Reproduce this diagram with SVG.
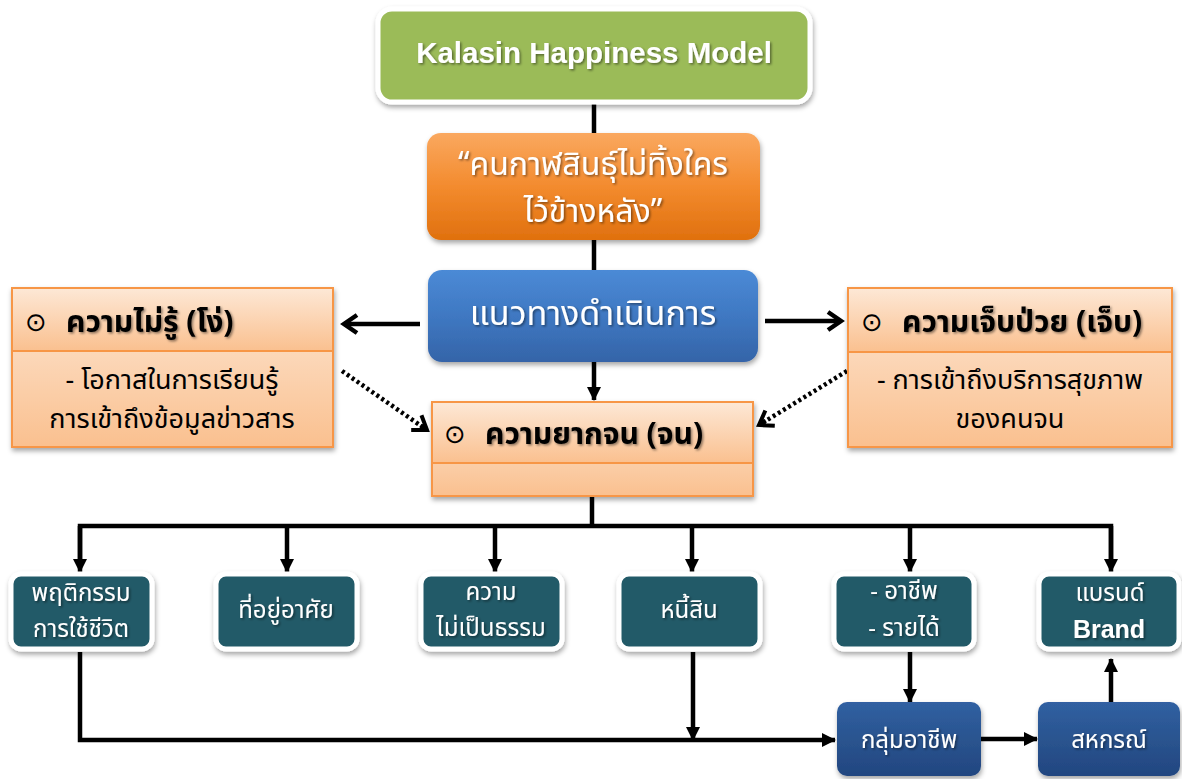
<svg xmlns="http://www.w3.org/2000/svg" width="1182" height="779" viewBox="0 0 1182 779">
<defs>
<style>
.th{font-family:'Noto Sans Thai','Noto Sans','DejaVu Sans',sans-serif;}
.en{font-family:'Liberation Sans',Arial,sans-serif;font-weight:bold;}
.w{fill:#ffffff;}
.k{fill:#000000;}
.mid{text-anchor:middle;}
.conn{fill:none;stroke:#000;stroke-width:4.5;}
.teal{fill:#235A68;stroke:#ffffff;stroke-width:5;}
.pe{stroke:#F79646;stroke-width:2;}
.hd{font-size:30px;font-weight:bold;}
.bd{font-size:27px;}
.tl{font-size:24px;}
.dot{font-size:26px;}
</style>
<linearGradient id="gOrange" x1="0" y1="0" x2="0" y2="1">
<stop offset="0" stop-color="#FAA85F"/><stop offset="0.5" stop-color="#F38B2E"/><stop offset="1" stop-color="#E0700E"/>
</linearGradient>
<linearGradient id="gBlue" x1="0" y1="0" x2="0" y2="1">
<stop offset="0" stop-color="#4B8AD6"/><stop offset="0.5" stop-color="#3F78C2"/><stop offset="1" stop-color="#3464A8"/>
</linearGradient>
<linearGradient id="gDark" x1="0" y1="0" x2="0" y2="1">
<stop offset="0" stop-color="#3060A2"/><stop offset="0.5" stop-color="#2A548F"/><stop offset="1" stop-color="#224680"/>
</linearGradient>
<linearGradient id="gPeach" x1="0" y1="0" x2="0" y2="1">
<stop offset="0" stop-color="#FDE8D6"/><stop offset="1" stop-color="#FAC08F"/>
</linearGradient>
<filter id="sh" x="-10%" y="-10%" width="120%" height="130%">
<feDropShadow dx="1" dy="3" stdDeviation="2.5" flood-color="#000" flood-opacity="0.35"/>
</filter>
<filter id="tsh" x="-5%" y="-20%" width="110%" height="140%">
<feDropShadow dx="1.5" dy="1.5" stdDeviation="1" flood-color="#000" flood-opacity="0.45"/>
</filter>
<marker id="tri" markerUnits="userSpaceOnUse" markerWidth="16" markerHeight="16" refX="13" refY="7" orient="auto">
<path d="M0,0 L14,7 L0,14 z" fill="#000"/>
</marker>
<marker id="chev" markerUnits="userSpaceOnUse" markerWidth="22" markerHeight="24" refX="16" refY="11" orient="auto">
<path d="M3,2 L16,11 L3,20" fill="none" stroke="#000" stroke-width="4.5" stroke-linejoin="miter"/>
</marker>
<marker id="dchev" markerUnits="userSpaceOnUse" markerWidth="22" markerHeight="24" refX="16" refY="11" orient="auto">
<path d="M3,2 L16,11 L3,20 M8,11 L16,11" fill="none" stroke="#000" stroke-width="4"/>
</marker>
</defs>
<rect width="1182" height="779" fill="#ffffff"/>

<g id="connectors">
<line class="conn" x1="594" y1="103" x2="594" y2="134"/>
<line class="conn" x1="594" y1="240" x2="594" y2="271"/>
<line class="conn" x1="594" y1="362" x2="594" y2="400" marker-end="url(#tri)"/>
<line class="conn" x1="420" y1="324" x2="344" y2="324" marker-end="url(#chev)"/>
<line class="conn" x1="765" y1="321" x2="841" y2="321" marker-end="url(#chev)"/>
<line class="conn" x1="342" y1="371" x2="427" y2="430" stroke-dasharray="3 3" marker-end="url(#dchev)"/>
<line class="conn" x1="847" y1="371" x2="759" y2="425" stroke-dasharray="3 3" marker-end="url(#dchev)"/>
<line class="conn" x1="592" y1="496" x2="592" y2="526"/>
<polyline class="conn" points="80,560 80,526 1111,526 1111,560"/>
<line class="conn" x1="80" y1="526" x2="80" y2="572" marker-end="url(#tri)"/>
<line class="conn" x1="1111" y1="526" x2="1111" y2="572" marker-end="url(#tri)"/>
<line class="conn" x1="287" y1="526" x2="287" y2="572" marker-end="url(#tri)"/>
<line class="conn" x1="495" y1="526" x2="495" y2="572" marker-end="url(#tri)"/>
<line class="conn" x1="692" y1="526" x2="692" y2="572" marker-end="url(#tri)"/>
<line class="conn" x1="910" y1="526" x2="910" y2="572" marker-end="url(#tri)"/>
<polyline class="conn" points="80,652 80,740 835,740" marker-end="url(#tri)"/>
<line class="conn" x1="693" y1="652" x2="693" y2="740" marker-end="url(#tri)"/>
<line class="conn" x1="910" y1="652" x2="910" y2="702" marker-end="url(#tri)"/>
<line class="conn" x1="981" y1="739" x2="1037" y2="739" marker-end="url(#tri)"/>
<line class="conn" x1="1111" y1="702" x2="1111" y2="659" marker-end="url(#tri)"/>
</g>

<g id="n-model">
<rect x="378" y="9" width="432" height="93" rx="14" fill="#9BBB59" stroke="#ffffff" stroke-width="5" filter="url(#sh)"/>
<text class="en w mid" x="594" y="63" font-size="29.5" filter="url(#tsh)">Kalasin Happiness Model</text>
</g>

<g id="n-motto">
<rect x="427" y="133" width="333" height="107" rx="14" fill="url(#gOrange)" filter="url(#sh)"/>
<text class="th w mid" x="593" y="175" font-size="32" filter="url(#tsh)">“คนกาฬสินธุ์ไม่ทิ้งใคร</text>
<text class="th w mid" x="593" y="222" font-size="32" filter="url(#tsh)">ไว้ข้างหลัง”</text>
</g>

<g id="n-approach">
<rect x="428" y="270" width="330" height="92" rx="14" fill="url(#gBlue)" filter="url(#sh)"/>
<text class="th w mid" x="593" y="325" font-size="34" filter="url(#tsh)">แนวทางดำเนินการ</text>
</g>

<g id="n-ignorance">
<rect class="pe" x="12" y="288" width="321" height="159" fill="url(#gPeach)" filter="url(#sh)"/>
<rect class="pe" x="12" y="288" width="321" height="63" fill="url(#gPeach)"/>
<text class="th k dot" x="25" y="331">⊙</text>
<text class="th k hd" x="66" y="332" filter="url(#tsh)">ความไม่รู้ (โง่)</text>
<text class="th k mid bd" x="172" y="389">- โอกาสในการเรียนรู้</text>
<text class="th k mid bd" x="172" y="428">การเข้าถึงข้อมูลข่าวสาร</text>
</g>

<g id="n-illness">
<rect class="pe" x="848" y="288" width="324" height="159" fill="url(#gPeach)" filter="url(#sh)"/>
<rect class="pe" x="848" y="288" width="324" height="64" fill="url(#gPeach)"/>
<text class="th k dot" x="861" y="331">⊙</text>
<text class="th k hd" x="902" y="332" filter="url(#tsh)">ความเจ็บป่วย (เจ็บ)</text>
<text class="th k mid bd" x="1010" y="389">- การเข้าถึงบริการสุขภาพ</text>
<text class="th k mid bd" x="1010" y="428">ของคนจน</text>
</g>

<g id="n-poverty">
<rect class="pe" x="432" y="402" width="321" height="94" fill="url(#gPeach)" filter="url(#sh)"/>
<rect class="pe" x="432" y="402" width="321" height="61" fill="url(#gPeach)"/>
<text class="th k dot" x="444" y="443">⊙</text>
<text class="th k hd" x="485" y="444" filter="url(#tsh)">ความยากจน (จน)</text>
</g>

<g id="n-behavior">
<rect class="teal" x="11" y="574" width="141" height="75" rx="10" filter="url(#sh)"/>
<text class="th w mid tl" x="81" y="601" filter="url(#tsh)">พฤติกรรม</text>
<text class="th w mid tl" x="81" y="637" filter="url(#tsh)">การใช้ชีวิต</text>
</g>

<g id="n-housing">
<rect class="teal" x="216" y="574" width="141" height="75" rx="10" filter="url(#sh)"/>
<text class="th w mid tl" x="286" y="618" filter="url(#tsh)">ที่อยู่อาศัย</text>
</g>

<g id="n-injustice">
<rect class="teal" x="421" y="574" width="141" height="75" rx="10" filter="url(#sh)"/>
<text class="th w mid tl" x="491" y="600" filter="url(#tsh)">ความ</text>
<text class="th w mid tl" x="491" y="636" filter="url(#tsh)">ไม่เป็นธรรม</text>
</g>

<g id="n-debt">
<rect class="teal" x="619" y="574" width="141" height="75" rx="10" filter="url(#sh)"/>
<text class="th w mid tl" x="689" y="618" filter="url(#tsh)">หนี้สิน</text>
</g>

<g id="n-income">
<rect class="teal" x="834" y="574" width="140" height="75" rx="10" filter="url(#sh)"/>
<text class="th w mid tl" x="904" y="599" filter="url(#tsh)">- อาชีพ</text>
<text class="th w mid tl" x="904" y="636" filter="url(#tsh)">- รายได้</text>
</g>

<g id="n-brand">
<rect class="teal" x="1039" y="574" width="140" height="75" rx="10" filter="url(#sh)"/>
<text class="th w mid tl" x="1110" y="601" filter="url(#tsh)">แบรนด์</text>
<text class="en w mid" x="1109" y="638" font-size="25" filter="url(#tsh)">Brand</text>
</g>

<g id="n-group">
<rect x="837" y="702" width="144" height="74" rx="10" fill="url(#gDark)" filter="url(#sh)"/>
<text class="th w mid tl" x="909" y="748" filter="url(#tsh)">กลุ่มอาชีพ</text>
</g>

<g id="n-coop">
<rect x="1038" y="702" width="142" height="74" rx="10" fill="url(#gDark)" filter="url(#sh)"/>
<text class="th w mid tl" x="1109" y="748" filter="url(#tsh)">สหกรณ์</text>
</g>
</svg>
